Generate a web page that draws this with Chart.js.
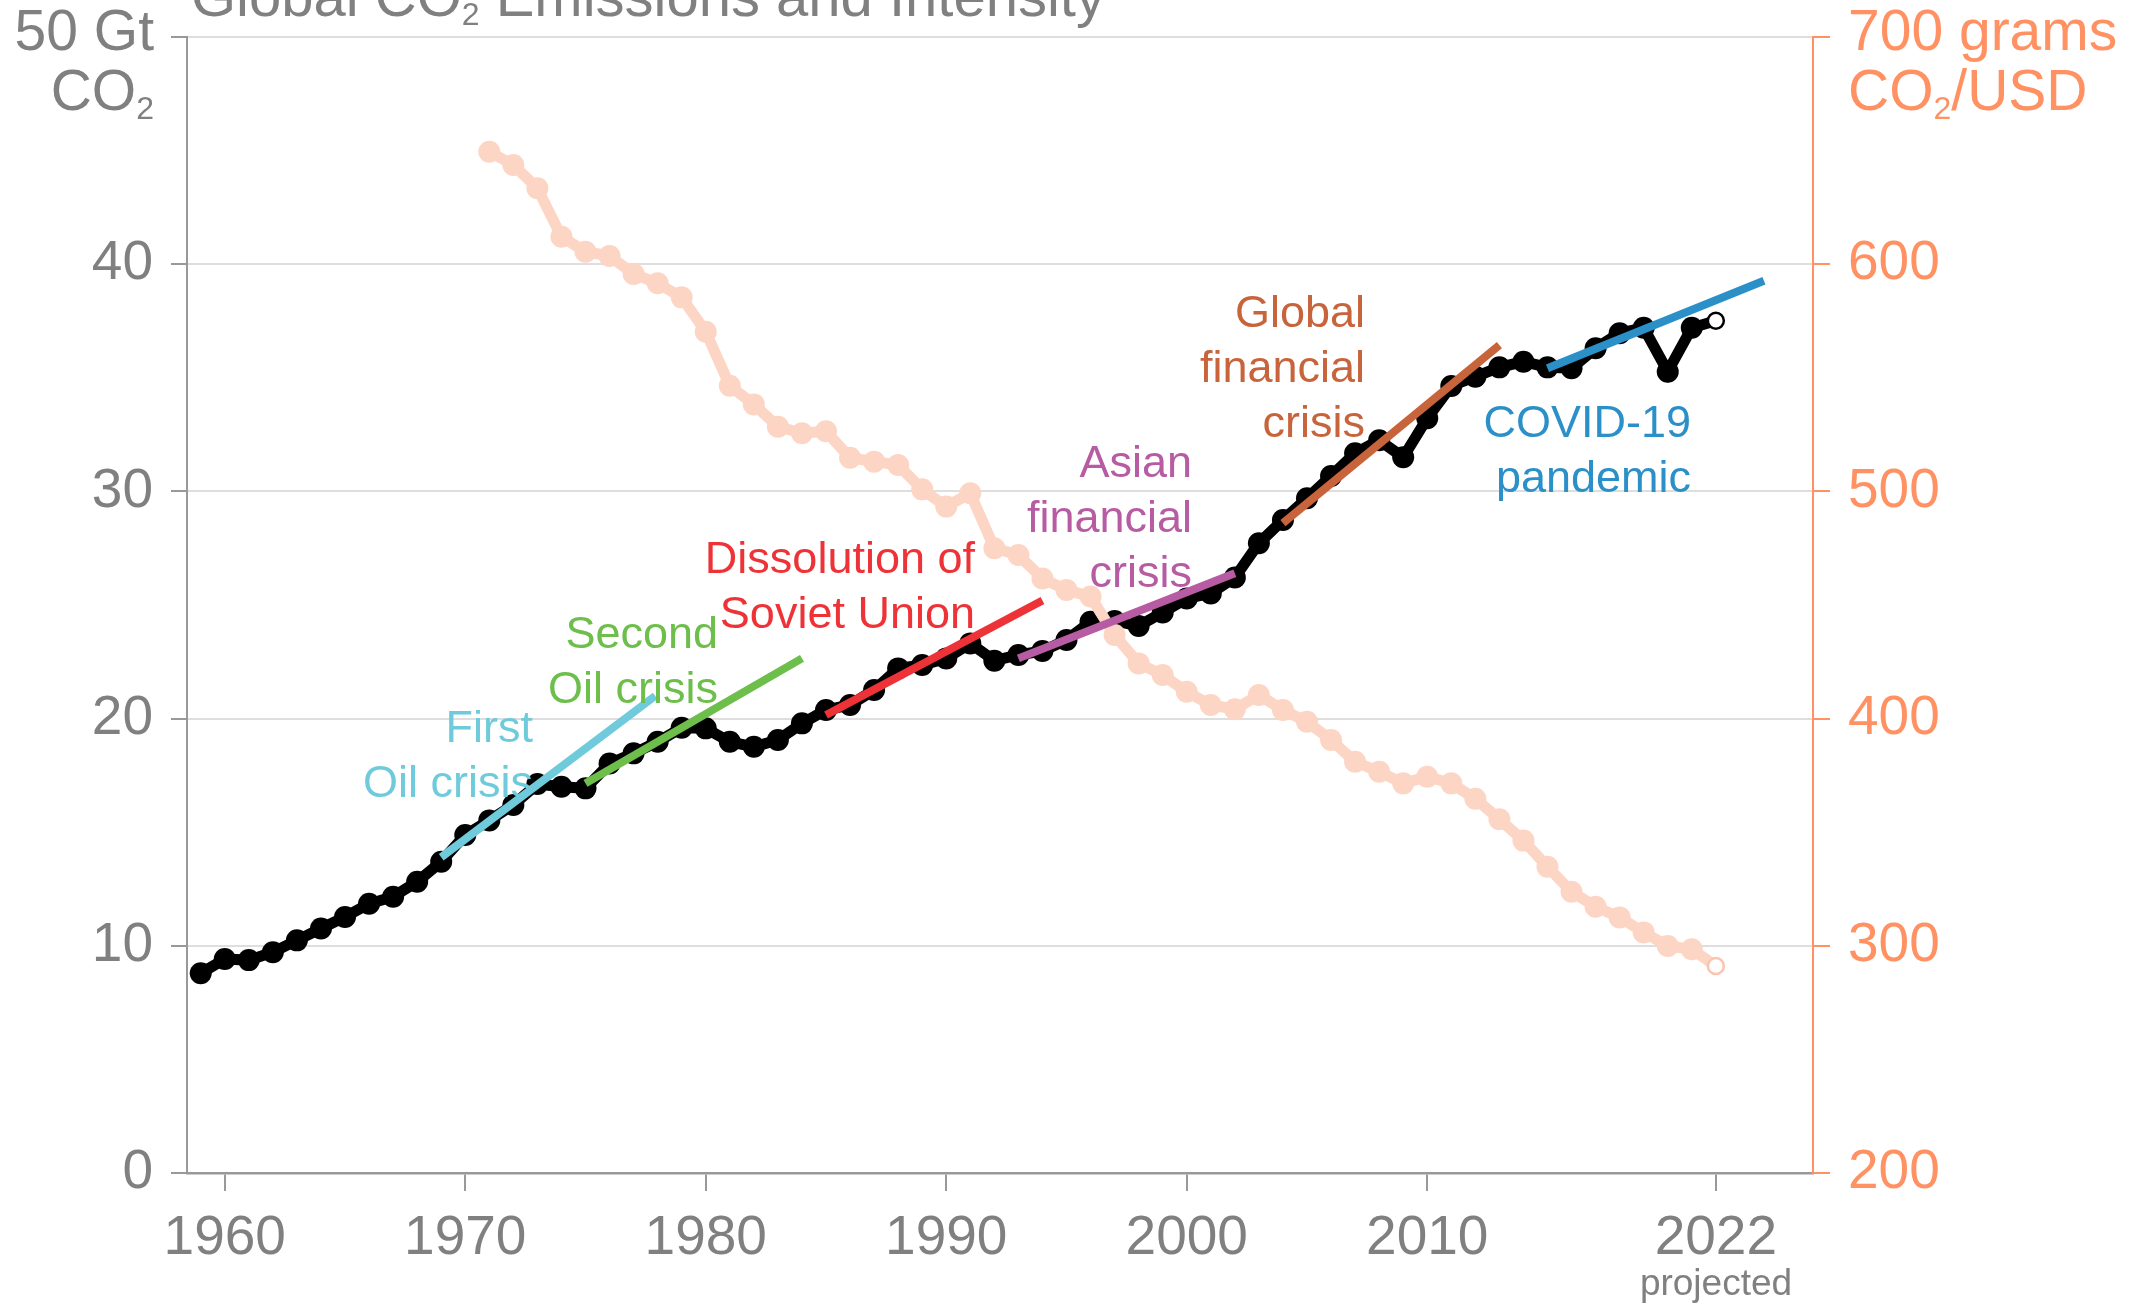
<!DOCTYPE html>
<html>
<head>
<meta charset="utf-8">
<script src="https://cdn.jsdelivr.net/npm/chart.js@4.4.1/dist/chart.umd.min.js"></script>
<style>
  html, body { margin: 0; padding: 0; background: #fff; }
  canvas { display: block; }
</style>
</head>
<body>
<canvas id="chart" width="2136" height="1304"></canvas>
<script>
// global fossil CO2 emissions, Gt CO2 (2022 is projected)
const emissionYears = [1959, 1960, 1961, 1962, 1963, 1964, 1965, 1966, 1967, 1968, 1969,
  1970, 1971, 1972, 1973, 1974, 1975, 1976, 1977, 1978, 1979,
  1980, 1981, 1982, 1983, 1984, 1985, 1986, 1987, 1988, 1989,
  1990, 1991, 1992, 1993, 1994, 1995, 1996, 1997, 1998, 1999,
  2000, 2001, 2002, 2003, 2004, 2005, 2006, 2007, 2008, 2009,
  2010, 2011, 2012, 2013, 2014, 2015, 2016, 2017, 2018, 2019,
  2020, 2021, 2022];
const emissions = [8.79, 9.42, 9.37, 9.72, 10.24, 10.76, 11.27, 11.85, 12.16, 12.82, 13.70,
  14.88, 15.52, 16.20, 17.12, 17.00, 16.93, 18.02, 18.47, 18.98, 19.60,
  19.57, 18.98, 18.76, 19.06, 19.79, 20.38, 20.60, 21.26, 22.21, 22.36,
  22.65, 23.31, 22.55, 22.80, 22.98, 23.46, 24.26, 24.30, 24.08, 24.67,
  25.29, 25.51, 26.21, 27.72, 28.74, 29.70, 30.68, 31.68, 32.25, 31.50,
  33.22, 34.64, 35.05, 35.46, 35.71, 35.46, 35.42, 36.30, 36.96, 37.20,
  35.27, 37.20, 37.51];

// carbon intensity, grams CO2 per USD (2022 is projected)
const intensityYears = [1971, 1972, 1973, 1974, 1975, 1976, 1977, 1978, 1979,
  1980, 1981, 1982, 1983, 1984, 1985, 1986, 1987, 1988, 1989,
  1990, 1991, 1992, 1993, 1994, 1995, 1996, 1997, 1998, 1999,
  2000, 2001, 2002, 2003, 2004, 2005, 2006, 2007, 2008, 2009,
  2010, 2011, 2012, 2013, 2014, 2015, 2016, 2017, 2018, 2019,
  2020, 2021, 2022];
const intensity = [649.5, 643.7, 633.4, 612.1, 605.5, 603.6, 595.7, 591.6, 585.4,
  570.3, 546.5, 538.3, 528.5, 525.6, 526.5, 514.8, 513.1, 511.6, 500.9,
  493.3, 499.2, 475.0, 472.0, 461.7, 456.6, 453.7, 436.8, 424.3, 419.2,
  411.8, 406.0, 404.1, 410.4, 403.8, 398.6, 390.6, 381.0, 376.6, 371.5,
  374.4, 371.5, 364.7, 355.7, 346.3, 334.8, 323.8, 317.2, 312.5, 305.9,
  299.9, 298.5, 291.1];

// growth trend segments after each crisis
const trendLabels = [['First', 'Oil crisis'], ['Second', 'Oil crisis'], ['Dissolution of', 'Soviet Union'],
  ['Asian', 'financial', 'crisis'], ['Global', 'financial', 'crisis'], ['COVID-19', 'pandemic']];
const trendStartYear = [1969, 1975, 1985, 1993, 2004, 2015];
const trendEndYear = [1977.9, 1984, 1994, 2002, 2013, 2024];
const trendStartValue = [13.9, 17.15, 20.16, 22.65, 28.6, 35.42];
const trendEndValue = [21.0, 22.65, 25.2, 26.4, 36.44, 39.27];

const xTicks = [1960, 1970, 1980, 1990, 2000, 2010, 2022];
const leftTicks = [0, 10, 20, 30, 40, 50];
const rightTicks = [200, 300, 400, 500, 600, 700];

const FONT = '"Liberation Sans", Arial, Helvetica, sans-serif';
const GRAY = '#808080';
const ORANGE = '#ff9163';
const PEACH = '#fdd5c4';
const trendColors = ['#6fcbdc', '#6dbe4b', '#ee3338', '#b75ba3', '#c8643b', '#2b90c8'];
// right edge x and first baseline y of each annotation block
const labelPos = [[533, 742], [718, 648], [975, 573], [1192, 477], [1365, 327], [1691, 437]];

function drawRich(ctx, segs, x, y, align, size, color) {
  const subSize = Math.round(size * 0.56);
  let total = 0;
  segs.forEach(([t, sub]) => {
    ctx.font = (sub ? subSize : size) + 'px ' + FONT;
    total += ctx.measureText(t).width;
  });
  let cx = align === 'right' ? x - total : align === 'center' ? x - total / 2 : x;
  ctx.fillStyle = color;
  ctx.textAlign = 'left';
  ctx.textBaseline = 'alphabetic';
  segs.forEach(([t, sub]) => {
    ctx.font = (sub ? subSize : size) + 'px ' + FONT;
    ctx.fillText(t, cx, sub ? y + size * 0.15 : y);
    cx += ctx.measureText(t).width;
  });
}

const textPlugin = {
  id: 'texts',
  afterDraw(chart) {
    const ctx = chart.ctx;
    ctx.save();
    drawRich(ctx, [['Global CO'], ['2', true], [' Emissions and Intensity']], 191, 16, 'left', 58, GRAY);
    drawRich(ctx, [['50 Gt']], 154, 50, 'right', 57, GRAY);
    drawRich(ctx, [['CO'], ['2', true]], 154, 110, 'right', 57, GRAY);
    drawRich(ctx, [['700 grams']], 1848, 50, 'left', 57, ORANGE);
    drawRich(ctx, [['CO'], ['2', true], ['/USD']], 1848, 110, 'left', 57, ORANGE);
    drawRich(ctx, [['projected']], 1716, 1295, 'center', 37, GRAY);
    trendLabels.forEach((lines, i) => {
      lines.forEach((line, j) => {
        drawRich(ctx, [[line]], labelPos[i][0], labelPos[i][1] + j * 55, 'right', 45, trendColors[i]);
      });
    });
    ctx.restore();
  }
};

const lastE = emissions.length - 1;
const lastI = intensity.length - 1;

const datasets = [
  {
    data: emissionYears.map((yr, i) => ({ x: yr, y: emissions[i] })),
    yAxisID: 'y',
    borderColor: '#000',
    borderWidth: 11,
    pointRadius: ctx => ctx.dataIndex === lastE ? 8 : 11,
    pointBackgroundColor: ctx => ctx.dataIndex === lastE ? '#fff' : '#000',
    pointBorderColor: '#000',
    pointBorderWidth: ctx => ctx.dataIndex === lastE ? 2.5 : 0,
    tension: 0,
    order: 2
  },
  {
    data: intensityYears.map((yr, i) => ({ x: yr, y: intensity[i] })),
    yAxisID: 'y2',
    borderColor: PEACH,
    borderWidth: 11,
    pointRadius: ctx => ctx.dataIndex === lastI ? 8 : 11,
    pointBackgroundColor: ctx => ctx.dataIndex === lastI ? '#fff' : PEACH,
    pointBorderColor: '#fcc4ad',
    pointBorderWidth: ctx => ctx.dataIndex === lastI ? 2.5 : 0,
    tension: 0,
    order: 1
  }
];
trendLabels.forEach((lbl, i) => {
  datasets.push({
    data: [{ x: trendStartYear[i], y: trendStartValue[i] }, { x: trendEndYear[i], y: trendEndValue[i] }],
    yAxisID: 'y',
    borderColor: trendColors[i],
    borderWidth: 8,
    borderCapStyle: 'butt',
    pointRadius: 0,
    order: 0
  });
});

new Chart(document.getElementById('chart'), {
  type: 'line',
  data: { datasets },
  options: {
    responsive: false,
    devicePixelRatio: 1,
    animation: false,
    layout: { padding: { top: 37, left: 0, right: 0, bottom: 0 } },
    plugins: { legend: { display: false }, tooltip: { enabled: false } },
    scales: {
      x: {
        type: 'linear',
        min: 1958.43,
        max: 2026.04,
        afterBuildTicks: s => { s.ticks = xTicks.map(v => ({ value: v })); },
        afterFit: s => { s.height = 131; s.paddingLeft = 0; s.paddingRight = 0; },
        grid: { drawOnChartArea: false, drawTicks: true, tickLength: 18, tickColor: '#999', lineWidth: 2 },
        border: { color: '#999', width: 2.5 },
        ticks: {
          autoSkip: false, maxRotation: 0, padding: 15, color: GRAY,
          font: { family: FONT, size: 55 },
          callback: v => String(v)
        }
      },
      y: {
        position: 'left',
        min: 0,
        max: 50,
        afterBuildTicks: s => { s.ticks = leftTicks.map(v => ({ value: v })); },
        afterFit: s => { s.width = 187; s.paddingTop = 0; s.paddingBottom = 0; },
        grid: { color: '#dedede', lineWidth: 2, tickLength: 16, tickColor: '#999' },
        border: { color: '#999', width: 2 },
        ticks: {
          padding: 18, color: GRAY,
          font: { family: FONT, size: 55 },
          callback: v => v === 50 ? '' : String(v)
        }
      },
      y2: {
        position: 'right',
        min: 200,
        max: 700,
        afterBuildTicks: s => { s.ticks = rightTicks.map(v => ({ value: v })); },
        afterFit: s => { s.width = 323; s.paddingTop = 0; s.paddingBottom = 0; },
        grid: { drawOnChartArea: false, tickLength: 17, tickColor: ORANGE, lineWidth: 2 },
        border: { color: ORANGE, width: 2 },
        ticks: {
          padding: 18, color: ORANGE,
          font: { family: FONT, size: 55 },
          callback: v => v === 700 ? '' : String(v)
        }
      }
    }
  },
  plugins: [textPlugin]
});
</script>
</body>
</html>
